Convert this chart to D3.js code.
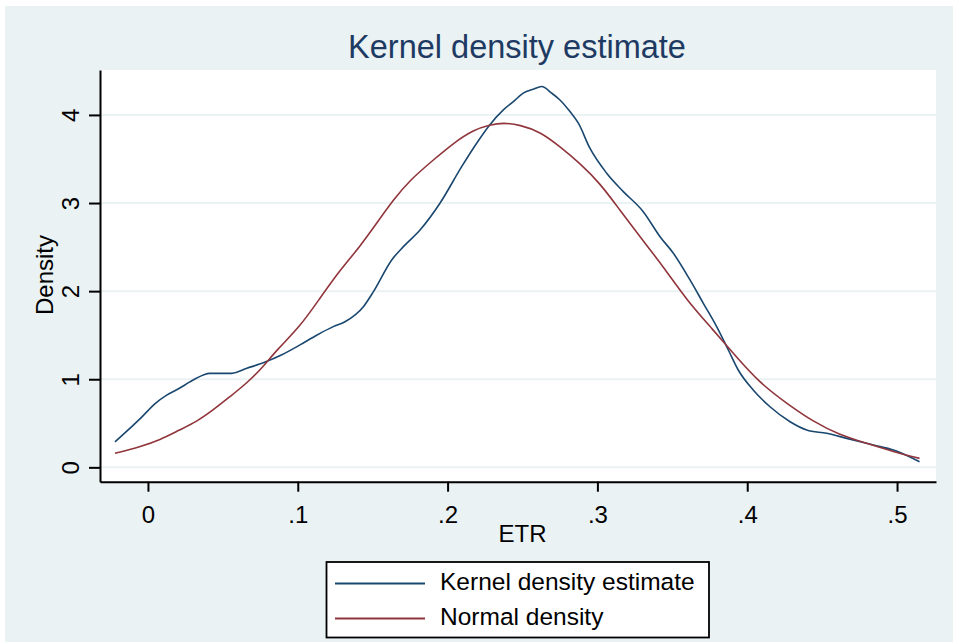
<!DOCTYPE html>
<html>
<head>
<meta charset="utf-8">
<script src="https://cdn.jsdelivr.net/npm/d3@7"></script>
<style>
  body { margin: 0; background: #fff; }
  text { font-family: "Liberation Sans", Arial, sans-serif; }
</style>
</head>
<body>
<div id="chart"></div>
<script>
// kernel density estimate of ETR
const kernelX = [-0.022, -0.005, 0.005, 0.0125, 0.021, 0.028, 0.037, 0.041, 0.056, 0.066, 0.079, 0.089,
  0.1015, 0.1126, 0.1237, 0.1315, 0.1438, 0.1505, 0.1627, 0.1705, 0.1816, 0.1949, 0.2094, 0.2194,
  0.2272, 0.2372, 0.2439, 0.2505, 0.2572, 0.2628, 0.2695, 0.275, 0.2817, 0.2873, 0.295, 0.3062,
  0.3173, 0.3306, 0.3418, 0.3507, 0.3618, 0.3707, 0.3796, 0.3874, 0.394, 0.404, 0.4152, 0.4286,
  0.4397, 0.453, 0.4664, 0.4842, 0.4976, 0.515];
const kernelY = [0.29, 0.556, 0.727, 0.82, 0.897, 0.97, 1.048, 1.067, 1.067, 1.124, 1.20, 1.275,
  1.39, 1.50, 1.597, 1.653, 1.824, 1.994, 2.354, 2.505, 2.694, 2.998, 3.413, 3.679,
  3.867, 4.057, 4.151, 4.247, 4.292, 4.322, 4.247, 4.17, 4.038, 3.906, 3.622, 3.338,
  3.13, 2.902, 2.618, 2.43, 2.127, 1.862, 1.597, 1.332, 1.105, 0.878, 0.688, 0.518,
  0.424, 0.386, 0.329, 0.253, 0.196, 0.064];

// normal density overlay
const normalX = [-0.022, -0.005, 0.008, 0.021, 0.0325, 0.0436, 0.0547, 0.0659, 0.077, 0.0859,
  0.1015, 0.1148, 0.1282, 0.1415, 0.1526, 0.1637, 0.1749, 0.1905, 0.2038, 0.2172, 0.2283,
  0.2372, 0.2483, 0.2617, 0.275, 0.2884, 0.3017, 0.315, 0.3284, 0.344, 0.3595, 0.3773,
  0.3907, 0.4085, 0.4263, 0.4441, 0.4619, 0.4797, 0.4975, 0.515];
const normalY = [0.159, 0.234, 0.31, 0.424, 0.518, 0.651, 0.802, 0.954, 1.142, 1.332,
  1.597, 1.919, 2.24, 2.505, 2.77, 3.035, 3.262, 3.489, 3.679, 3.83, 3.887,
  3.913, 3.887, 3.81, 3.64, 3.45, 3.225, 2.92, 2.618, 2.278, 1.9, 1.559,
  1.294, 0.954, 0.727, 0.518, 0.367, 0.273, 0.177, 0.102];

const xTicks = [0, 0.1, 0.2, 0.3, 0.4, 0.5];
const xTickLabels = ["0", ".1", ".2", ".3", ".4", ".5"];
const yTicks = [0, 1, 2, 3, 4];
const seriesNames = ["Kernel density estimate", "Normal density"];

const width = 953, height = 642;
const plot = { left: 100, right: 936, top: 70, bottom: 481.7 };
const colors = ["#1a476f", "#90353b"];

const svg = d3.select("#chart").append("svg")
  .attr("width", width)
  .attr("height", height);

// stata-ish background
svg.append("rect")
  .attr("x", 5).attr("y", 6)
  .attr("width", width - 5).attr("height", height - 6)
  .attr("fill", "#eaf2f3");

svg.append("rect")
  .attr("x", plot.left).attr("y", plot.top)
  .attr("width", plot.right - plot.left).attr("height", plot.bottom - plot.top)
  .attr("fill", "#fff");

const x = d3.scaleLinear()
  .domain([-0.032, 0.526])
  .range([plot.left, plot.right]);

const y = d3.scaleLinear()
  .domain([-0.163, 4.51])
  .range([plot.bottom, plot.top]);

// grid lines
svg.append("g")
  .selectAll("line")
  .data(yTicks)
  .join("line")
  .attr("x1", plot.left).attr("x2", plot.right)
  .attr("y1", d => y(d)).attr("y2", d => y(d))
  .attr("stroke", "#eaf2f3")
  .attr("stroke-width", 2);

// axes
const xAxis = svg.append("g")
  .attr("transform", `translate(0,${plot.bottom})`)
  .call(d3.axisBottom(x).tickValues(xTicks).tickFormat((d, i) => xTickLabels[i])
    .tickSize(10).tickSizeOuter(0).tickPadding(14));
xAxis.select(".domain").attr("stroke", "#000").attr("stroke-width", 2);
xAxis.selectAll(".tick line").attr("stroke", "#000").attr("stroke-width", 2);
xAxis.selectAll(".tick text")
  .attr("font-size", 24)
  .attr("font-family", "Liberation Sans, Arial, sans-serif")
  .attr("fill", "#000");

const yAxis = svg.append("g")
  .attr("transform", `translate(${plot.left},0)`)
  .call(d3.axisLeft(y).tickValues(yTicks).tickFormat(d3.format("d"))
    .tickSize(11).tickSizeOuter(0));
yAxis.select(".domain").attr("stroke", "#000").attr("stroke-width", 2);
yAxis.selectAll(".tick line").attr("stroke", "#000").attr("stroke-width", 2);
yAxis.selectAll(".tick text")
  .attr("font-size", 24)
  .attr("font-family", "Liberation Sans, Arial, sans-serif")
  .attr("fill", "#000")
  .attr("x", null).attr("dy", null)
  .attr("text-anchor", "middle")
  .attr("transform", "translate(-21,0) rotate(-90)");

// axis titles
svg.append("text")
  .attr("x", (x(0.2) + x(0.3)) / 2)
  .attr("y", 541.5)
  .attr("font-size", 24)
  .attr("text-anchor", "middle")
  .text("ETR");

svg.append("text")
  .attr("transform", "rotate(-90)")
  .attr("x", -275)
  .attr("y", 53)
  .attr("font-size", 24)
  .attr("text-anchor", "middle")
  .text("Density");

// title
svg.append("text")
  .attr("x", 517)
  .attr("y", 58)
  .attr("font-size", 32.5)
  .attr("fill", "#1e3a63")
  .attr("text-anchor", "middle")
  .text("Kernel density estimate");

// curves: kernel through the read points, normal smoothed a little
const kernelLine = d3.line()
  .x(d => x(d[0]))
  .y(d => y(d[1]))
  .curve(d3.curveMonotoneX);

const normalLine = d3.line()
  .x(d => x(d[0]))
  .y(d => y(d[1]))
  .curve(d3.curveBasis);

svg.append("path")
  .datum(d3.zip(kernelX, kernelY))
  .attr("d", kernelLine)
  .attr("fill", "none")
  .attr("stroke", colors[0])
  .attr("stroke-width", 1.6);

svg.append("path")
  .datum(d3.zip(normalX, normalY))
  .attr("d", normalLine)
  .attr("fill", "none")
  .attr("stroke", colors[1])
  .attr("stroke-width", 1.6);

// legend
const legend = svg.append("g");
legend.append("rect")
  .attr("x", 326.5).attr("y", 562)
  .attr("width", 382.5).attr("height", 75.5)
  .attr("fill", "#fff")
  .attr("stroke", "#000")
  .attr("stroke-width", 1.8);

const rowY = [583.5, 618.5];
seriesNames.forEach((name, i) => {
  legend.append("line")
    .attr("x1", 335).attr("x2", 425)
    .attr("y1", rowY[i]).attr("y2", rowY[i])
    .attr("stroke", colors[i])
    .attr("stroke-width", 1.8);
  legend.append("text")
    .attr("x", 440)
    .attr("y", rowY[i] + 6)
    .attr("font-size", 24.5)
    .text(name);
});
</script>
</body>
</html>
